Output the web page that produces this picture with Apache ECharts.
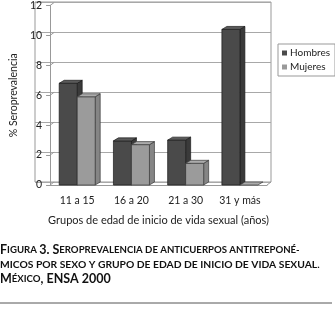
<!DOCTYPE html>
<html>
<head>
<meta charset="utf-8">
<script src="https://cdn.jsdelivr.net/npm/echarts@6/dist/echarts.min.js"></script>
<style>
html, body { margin: 0; padding: 0; background: #fff; }
#chart { width: 335px; height: 311px; }
</style>
</head>
<body>
<div id="chart"></div>
<script>
var categories = ['11 a 15', '16 a 20', '21 a 30', '31 y más'];
var hombres = [6.8, 2.95, 3.0, 10.4];
var mujeres = [5.9, 2.7, 1.45, 0];
var yTicks = [0, 2, 4, 6, 8, 10, 12];

var FONT = 'Lato';
var BAR_W = 18, DX = 5, DY = -3;   // bar width and 3d depth
var WDX = 4, WDY = -3;             // back wall offset

function bar3d(side, front, sideCol, top, edge) {
    return function (params, api) {
        var cat = api.value(0), val = api.value(1);
        var base = api.coord([cat, 0]);
        var peak = api.coord([cat, val]);
        var x0 = side < 0 ? base[0] - BAR_W : base[0];
        var x1 = x0 + BAR_W;
        var y0 = base[1], y1 = peak[1];
        var st = { stroke: edge, lineWidth: 0.7 };
        var kids = [];
        if (y0 - y1 > 0.5) {
            kids.push({ type: 'polygon', shape: { points: [[x1, y0], [x1 + DX, y0 + DY], [x1 + DX, y1 + DY], [x1, y1]] },
                style: Object.assign({ fill: sideCol }, st) });
            kids.push({ type: 'rect', shape: { x: x0, y: y1, width: BAR_W, height: y0 - y1 },
                style: Object.assign({ fill: front }, st) });
        }
        kids.push({ type: 'polygon', shape: { points: [[x0, y1], [x0 + DX, y1 + DY], [x1 + DX, y1 + DY], [x1, y1]] },
            style: Object.assign({ fill: top }, st) });
        return { type: 'group', children: kids };
    };
}

// little diagonal connectors between the front axes and the back wall
function frame(params, api) {
    var v = api.value(0);
    var band = api.size([1, 0])[0];
    var p = api.coord([0, v]);
    var xl = p[0] - band / 2;
    var kids = [{ type: 'line', shape: { x1: xl, y1: p[1], x2: xl + WDX, y2: p[1] + WDY },
        style: { stroke: '#999', lineWidth: 1 } }];
    if (v === 0) {
        var q = api.coord([categories.length - 1, 0]);
        var xr = q[0] + band / 2;
        kids.push({ type: 'line', shape: { x1: xr, y1: q[1], x2: xr + WDX, y2: q[1] + WDY },
            style: { stroke: '#999', lineWidth: 1 } });
    }
    return { type: 'group', children: kids };
}

var myChart = echarts.init(document.getElementById('chart'));

var option = {
    animation: false,
    backgroundColor: '#fff',
    textStyle: { fontFamily: FONT },
    title: {
        left: 0,
        top: 243,
        padding: 0,
        text: '{b|F}{s|IGURA }{b|3. S}{s|EROPREVALENCIA DE ANTICUERPOS ANTITREPONÉ-}\n' +
              '{s2|MICOS POR SEXO Y GRUPO DE EDAD DE INICIO DE VIDA SEXUAL.}\n' +
              '{b|M}{s|ÉXICO}{b|, ENSA 2000}',
        textStyle: {
            rich: {
                b: { fontFamily: FONT, fontSize: 12.5, fontWeight: 'bold', color: '#111', lineHeight: 14.5 },
                s: { fontFamily: FONT, fontSize: 9.6, fontWeight: 'bold', color: '#111', lineHeight: 14.5 },
                s2: { fontFamily: FONT, fontSize: 10.3, fontWeight: 'bold', color: '#111', lineHeight: 14.5 }
            }
        }
    },
    legend: {
        orient: 'vertical',
        left: 278,
        top: 44,
        itemWidth: 5,
        itemHeight: 5,
        itemGap: 4,
        padding: [4, 5, 4, 4],
        borderColor: '#999',
        borderWidth: 1,
        backgroundColor: '#fff',
        icon: 'rect',
        data: ['Hombres', 'Mujeres'],
        textStyle: { fontFamily: FONT, fontSize: 10, color: '#222', padding: [0, 0, 0, -2] }
    },
    graphic: [{
        type: 'line',
        shape: { x1: 0, y1: 303, x2: 332, y2: 303 },
        style: { stroke: '#555', lineWidth: 1 }
    }],
    grid: [
        { left: 31, right: 68, top: 5, bottom: 126 },
        { left: 35, right: 64, top: 2, bottom: 129, show: true, borderColor: '#999', borderWidth: 1 }
    ],
    xAxis: [{
        gridIndex: 0,
        type: 'category',
        data: categories,
        name: 'Grupos de edad de inicio de vida sexual (años)',
        nameLocation: 'middle',
        nameGap: 30,
        nameTextStyle: { fontFamily: FONT, fontSize: 11, color: '#222' },
        axisLine: { lineStyle: { color: '#999' } },
        axisTick: { length: 6, lineStyle: { color: '#999' } },
        axisLabel: { margin: 10, fontFamily: FONT, fontSize: 10.5, color: '#222' }
    }, {
        gridIndex: 1,
        type: 'category',
        data: categories,
        show: false
    }],
    yAxis: [{
        gridIndex: 0,
        type: 'value',
        min: 0,
        max: 12,
        interval: 2,
        name: '% Seroprevalencia',
        nameLocation: 'middle',
        nameGap: 24,
        nameTextStyle: { fontFamily: FONT, fontSize: 10.5, color: '#222' },
        axisLine: { show: true, lineStyle: { color: '#999' } },
        axisTick: { show: true, length: 4, lineStyle: { color: '#999' } },
        axisLabel: { margin: 8, fontFamily: FONT, fontSize: 10.5, color: '#222' },
        splitLine: { show: false }
    }, {
        gridIndex: 1,
        type: 'value',
        min: 0,
        max: 12,
        interval: 2,
        axisLine: { show: false },
        axisTick: { show: false },
        axisLabel: { show: false },
        splitLine: { lineStyle: { color: '#a8a8a8' } }
    }],
    series: [{
        type: 'custom',
        name: 'frame',
        xAxisIndex: 0,
        yAxisIndex: 0,
        renderItem: frame,
        data: yTicks.map(function (v) { return [v]; }),
        encode: { y: 0 },
        silent: true,
        z: 1
    }, {
        type: 'custom',
        name: 'Hombres',
        xAxisIndex: 0,
        yAxisIndex: 0,
        itemStyle: { color: '#4a4a4a' },
        renderItem: bar3d(-1, '#4a4a4a', '#3a3a3a', '#5a5a5a', '#1a1a1a'),
        data: hombres.map(function (v, i) { return [i, v]; }),
        z: 3
    }, {
        type: 'custom',
        name: 'Mujeres',
        xAxisIndex: 0,
        yAxisIndex: 0,
        itemStyle: { color: '#9a9a9a' },
        renderItem: bar3d(1, '#9b9b9b', '#858585', '#ababab', '#3a3a3a'),
        data: mujeres.map(function (v, i) { return [i, v]; }),
        z: 4
    }]
};

myChart.setOption(option);
</script>
</body>
</html>
